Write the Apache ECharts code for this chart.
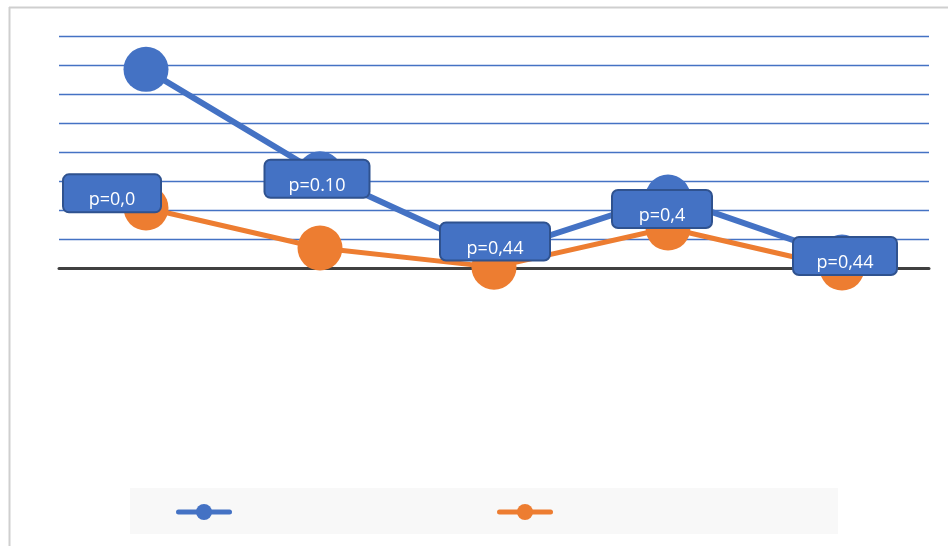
<!DOCTYPE html>
<html>
<head>
<meta charset="utf-8">
<script src="https://cdn.jsdelivr.net/npm/echarts@6/dist/echarts.min.js"></script>
<style>
  html, body { margin: 0; padding: 0; background: #fff; }
  #chart { width: 948px; height: 546px; }
</style>
</head>
<body>
<div id="chart"></div>
<script>
const categories = ['1', '2', '3', '4', '5']
const seriesNames = ['Series 1', 'Series 2']
const blueValues = [6.85, 3.25, 0.5, 2.45, 0.38]
const orangeValues = [2.07, 0.69, 0.03, 1.38, 0.0]
const pLabels = ['p=0,0', 'p=0.10', 'p=0,44', 'p=0,4', 'p=0,44']

// label box placement relative to each blue point
const labelOffsets = [[-34, 124], [-3, 5], [1, -12], [-6, 12], [3, -1]]
const labelWidths = [96, 103, 108, 98, 102]

const blue = '#4472C4'
const orange = '#ED7D31'

const chart = echarts.init(document.getElementById('chart'))

const option = {
  animation: false,
  backgroundColor: '#fff',
  grid: {
    left: 59,
    right: 19,
    top: 36,
    bottom: 278
  },
  legend: {
    left: 130,
    top: 488,
    padding: [14, 285, 14, 46],
    backgroundColor: '#f8f8f8',
    itemWidth: 51,
    itemHeight: 20,
    itemGap: 265,
    formatter: () => '',
    lineStyle: { width: 5, cap: 'round' },
    data: seriesNames
  },
  xAxis: {
    type: 'category',
    data: categories,
    axisLine: { lineStyle: { color: '#404040', width: 3 } },
    axisTick: { show: false },
    axisLabel: { show: false }
  },
  yAxis: {
    type: 'value',
    min: 0,
    max: 8,
    interval: 1,
    axisLabel: { show: false },
    axisLine: { show: false },
    axisTick: { show: false },
    splitLine: { lineStyle: { color: blue, width: 1.3 } }
  },
  graphic: [
    { type: 'line', shape: { x1: 9, y1: 7.5, x2: 948, y2: 7.5 }, style: { stroke: '#cfcfcf', lineWidth: 2 } },
    { type: 'line', shape: { x1: 9.5, y1: 7, x2: 9.5, y2: 546 }, style: { stroke: '#cfcfcf', lineWidth: 2 } }
  ],
  series: [
    {
      name: seriesNames[0],
      type: 'line',
      symbol: 'circle',
      symbolSize: 45,
      itemStyle: { color: blue },
      lineStyle: { color: blue, width: 6 },
      z: 2,
      data: blueValues
    },
    {
      name: seriesNames[1],
      type: 'line',
      symbol: 'circle',
      symbolSize: 45,
      itemStyle: { color: orange },
      lineStyle: { color: orange, width: 5 },
      z: 3,
      data: orangeValues
    },
    {
      // p-value boxes, anchored on the blue points, drawn above both lines
      name: 'p',
      type: 'scatter',
      silent: true,
      symbolSize: 1,
      itemStyle: { color: 'rgba(0,0,0,0)', opacity: 1 },
      z: 10,
      data: blueValues.map((v, i) => ({
        value: v,
        label: {
          show: true,
          opacity: 1,
          position: 'inside',
          offset: labelOffsets[i],
          formatter: '{b|' + pLabels[i] + '}',
          rich: {
            b: {
              width: labelWidths[i],
              align: 'center',
              color: '#fff',
              fontFamily: 'Open Sans',
              fontSize: 18,
              lineHeight: 20,
              padding: [16, 0, 2, 0],
              backgroundColor: blue,
              borderColor: '#2F528F',
              borderWidth: 2,
              borderRadius: 5
            }
          }
        }
      }))
    }
  ]
}

chart.setOption(option)
</script>
</body>
</html>
